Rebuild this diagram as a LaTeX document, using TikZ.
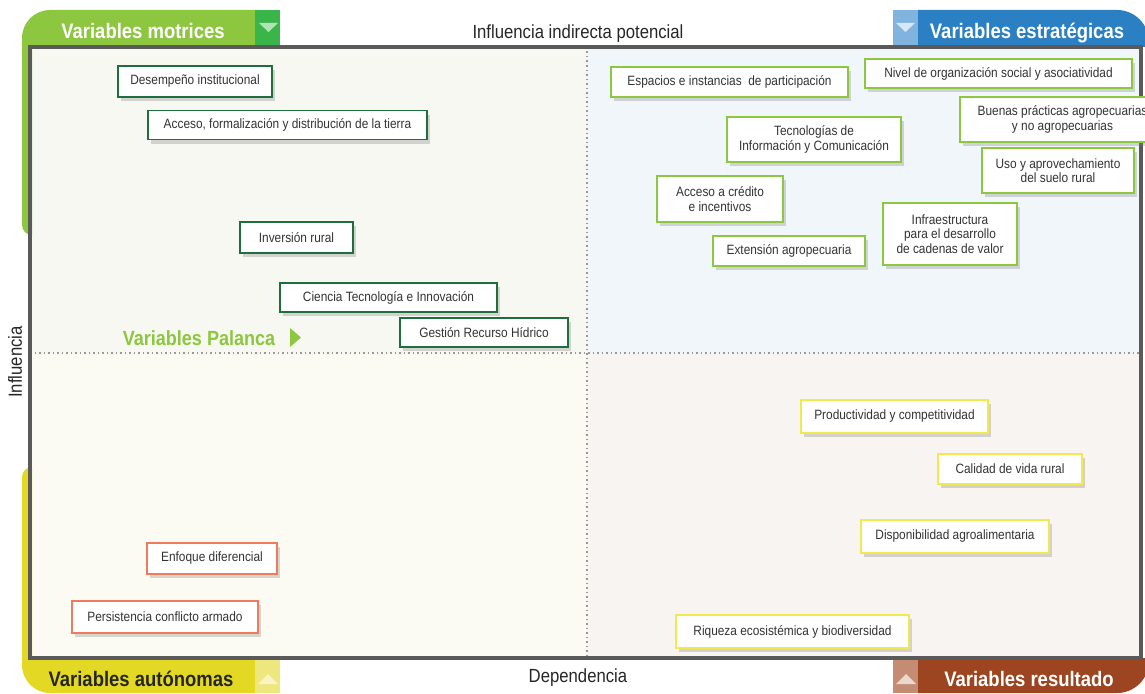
\documentclass[tikz,border=0pt]{standalone}
\usepackage{fontspec}
\setmainfont{Liberation Sans}[FakeStretch=0.88]
\usepackage{tikz}
\usepackage{xcolor}
\usetikzlibrary{shadows}

\definecolor{verdeM}{HTML}{8DC63F}
\definecolor{verdeO}{HTML}{39B54A}
\definecolor{verdeT}{HTML}{B4E2B4}
\definecolor{azulE}{HTML}{2B80C3}
\definecolor{azulC}{HTML}{80B4DE}
\definecolor{azulT}{HTML}{D6E8F6}
\definecolor{amarA}{HTML}{E3D823}
\definecolor{amarC}{HTML}{EDE77E}
\definecolor{amarT}{HTML}{F8F4C4}
\definecolor{cafeR}{HTML}{9C4520}
\definecolor{cafeC}{HTML}{C58C74}
\definecolor{cafeT}{HTML}{EDD8CE}
\definecolor{marco}{HTML}{5A5A5A}
\definecolor{bordeTL}{HTML}{1F6E3D}
\definecolor{bordeBL}{HTML}{EF7B5C}
\definecolor{bordeBR}{HTML}{F2E94E}
\definecolor{texto}{HTML}{333333}
\definecolor{fondoTL}{HTML}{F6F8F1}
\definecolor{fondoTR}{HTML}{F1F6FA}
\definecolor{fondoBL}{HTML}{FBFBF3}
\definecolor{fondoBR}{HTML}{F8F4F1}

\begin{document}
\begin{tikzpicture}[x=1pt, y=-1pt,
  var/.style={draw, fill=white, line width=1.5pt, align=center, inner sep=2pt,
    font=\fontsize{13.5}{14.3}\selectfont, text=texto,
    drop shadow={opacity=0.3, shadow xshift=3pt, shadow yshift=-4pt}},
  motriz/.style={var, draw=bordeTL, line width=1.3pt},
  estrat/.style={var, draw=verdeM},
  autono/.style={var, draw=bordeBL},
  result/.style={var, draw=bordeBR},
  tab/.style={anchor=base, font=\fontsize{21}{21}\selectfont\bfseries},
  eje/.style={font=\fontsize{19}{19}\selectfont, text=black!85},
  division/.style={draw=black!40, line width=1.3pt, dash pattern=on 1.5pt off 3pt}]
  \useasboundingbox (0,0) rectangle (1145,693);

  \coordinate (no) at (30,47);
  \coordinate (se) at (1141,658);
  \coordinate (c) at (587,353);

  \fill[fondoTL] (no) rectangle (c);
  \fill[fondoTR] (587,47) rectangle (1141,353);
  \fill[fondoBL] (30,353) rectangle (587,658);
  \fill[fondoBR] (c) rectangle (se);
  \draw[division] (587,47) -- (587,658);
  \draw[division] (30,353) -- (1141,353);

  \fill[verdeM] (255,47) -- (255,10) [rounded corners=28pt] -- (22,10) [rounded corners=10pt] -- (22,235) [sharp corners] -- (32,235) -- (32,47) -- cycle;
  \fill[verdeO] (255,10) rectangle (280,47);
  \fill[verdeT] (259,23) -- (278,23) -- (268.5,32) -- cycle;

  \fill[amarA] (255,658) -- (255,693) [rounded corners=28pt] -- (22,693) [rounded corners=10pt] -- (22,467) [sharp corners] -- (32,467) -- (32,658) -- cycle;
  \fill[amarC] (255,658) rectangle (280,693);
  \fill[amarT] (258,684) -- (278,684) -- (268,674) -- cycle;

  \fill[azulE] (918,47) -- (918,10) [rounded corners=32pt] -- (1149,10) [sharp corners] -- (1149,47) -- cycle;
  \fill[azulC] (893,10) rectangle (918,47);
  \fill[azulT] (896,23) -- (915,23) -- (905.5,32) -- cycle;

  \fill[cafeR] (918,658) -- (918,693) [rounded corners=32pt] -- (1149,693) [sharp corners] -- (1149,658) -- cycle;
  \fill[cafeC] (893,658) rectangle (918,693);
  \fill[cafeT] (896,684) -- (916,684) -- (906,674) -- cycle;

  \draw[line width=3.5pt, marco] (no) rectangle (se);

  \node[tab, text=white] (motrices) at (143,38) {Variables motrices};
  \node[tab, text=white] (estrategicas) at (1027,38) {Variables estratégicas};
  \node[tab, text=black!85] (autonomas) at (141,686) {Variables autónomas};
  \node[tab, text=white] (resultado) at (1029,686) {Variables resultado};
  \node[tab, text=verdeM, font=\fontsize{20.5}{20.5}\selectfont\bfseries] (palanca) at (199,345) {Variables Palanca};
  \fill[verdeM] (290,328) -- (301,337.5) -- (290,347) -- cycle;

  \node[eje, anchor=base] (indirecta) at (578,39) {Influencia indirecta potencial};
  \node[eje, anchor=base] (dependencia) at (578,682) {Dependencia};
  \node[eje, rotate=90] (influencia) at (15,362) {Influencia};

  \node[motriz, minimum width=154, minimum height=31] (desempeno) at (195,81.5) {Desempeño institucional};
  \node[motriz, minimum width=279, minimum height=29] (tierra) at (287.5,125) {Acceso, formalización y distribución de la tierra};
  \node[motriz, minimum width=113, minimum height=31] (inversion) at (296.5,237.5) {Inversión rural};
  \node[motriz, minimum width=217, minimum height=29] (ciencia) at (388.5,297.5) {Ciencia Tecnología e Innovación};
  \node[motriz, minimum width=168, minimum height=29] (hidrico) at (484,332.5) {Gestión Recurso Hídrico};

  \node[estrat, minimum width=237, minimum height=30] (espacios) at (729.5,82) {Espacios e instancias \ de participación};
  \node[estrat, minimum width=267, minimum height=29] (nivel) at (998.5,73.5) {Nivel de organización social y asociatividad};
  \node[estrat, minimum width=205, minimum height=45] (buenas) at (1062.5,119.5) {Buenas prácticas agropecuarias\\y no agropecuarias};
  \node[estrat, minimum width=152, minimum height=45] (suelo) at (1058,170.5) {Uso y aprovechamiento\\del suelo rural};
  \node[estrat, minimum width=174, minimum height=45] (tic) at (814,139.5) {Tecnologías de\\Información y Comunicación};
  \node[estrat, minimum width=126, minimum height=46] (credito) at (720,199) {Acceso a crédito\\e incentivos};
  \node[estrat, minimum width=152, minimum height=30] (extension) at (789,251) {Extensión agropecuaria};
  \node[estrat, minimum width=134, minimum height=62] (infra) at (950,234) {Infraestructura\\para el desarrollo\\de cadenas de valor};

  \node[result, minimum width=187, minimum height=33] (productividad) at (894.5,416.5) {Productividad y competitividad};
  \node[result, minimum width=144, minimum height=30] (calidad) at (1010,469) {Calidad de vida rural};
  \node[result, minimum width=188, minimum height=33] (disponibilidad) at (955,536.5) {Disponibilidad agroalimentaria};
  \node[result, minimum width=233, minimum height=33] (riqueza) at (792.5,631.5) {Riqueza ecosistémica y biodiversidad};

  \node[autono, minimum width=130, minimum height=31] (enfoque) at (212,558.5) {Enfoque diferencial};
  \node[autono, minimum width=186, minimum height=32] (conflicto) at (165,617) {Persistencia conflicto armado};
\end{tikzpicture}
\end{document}
